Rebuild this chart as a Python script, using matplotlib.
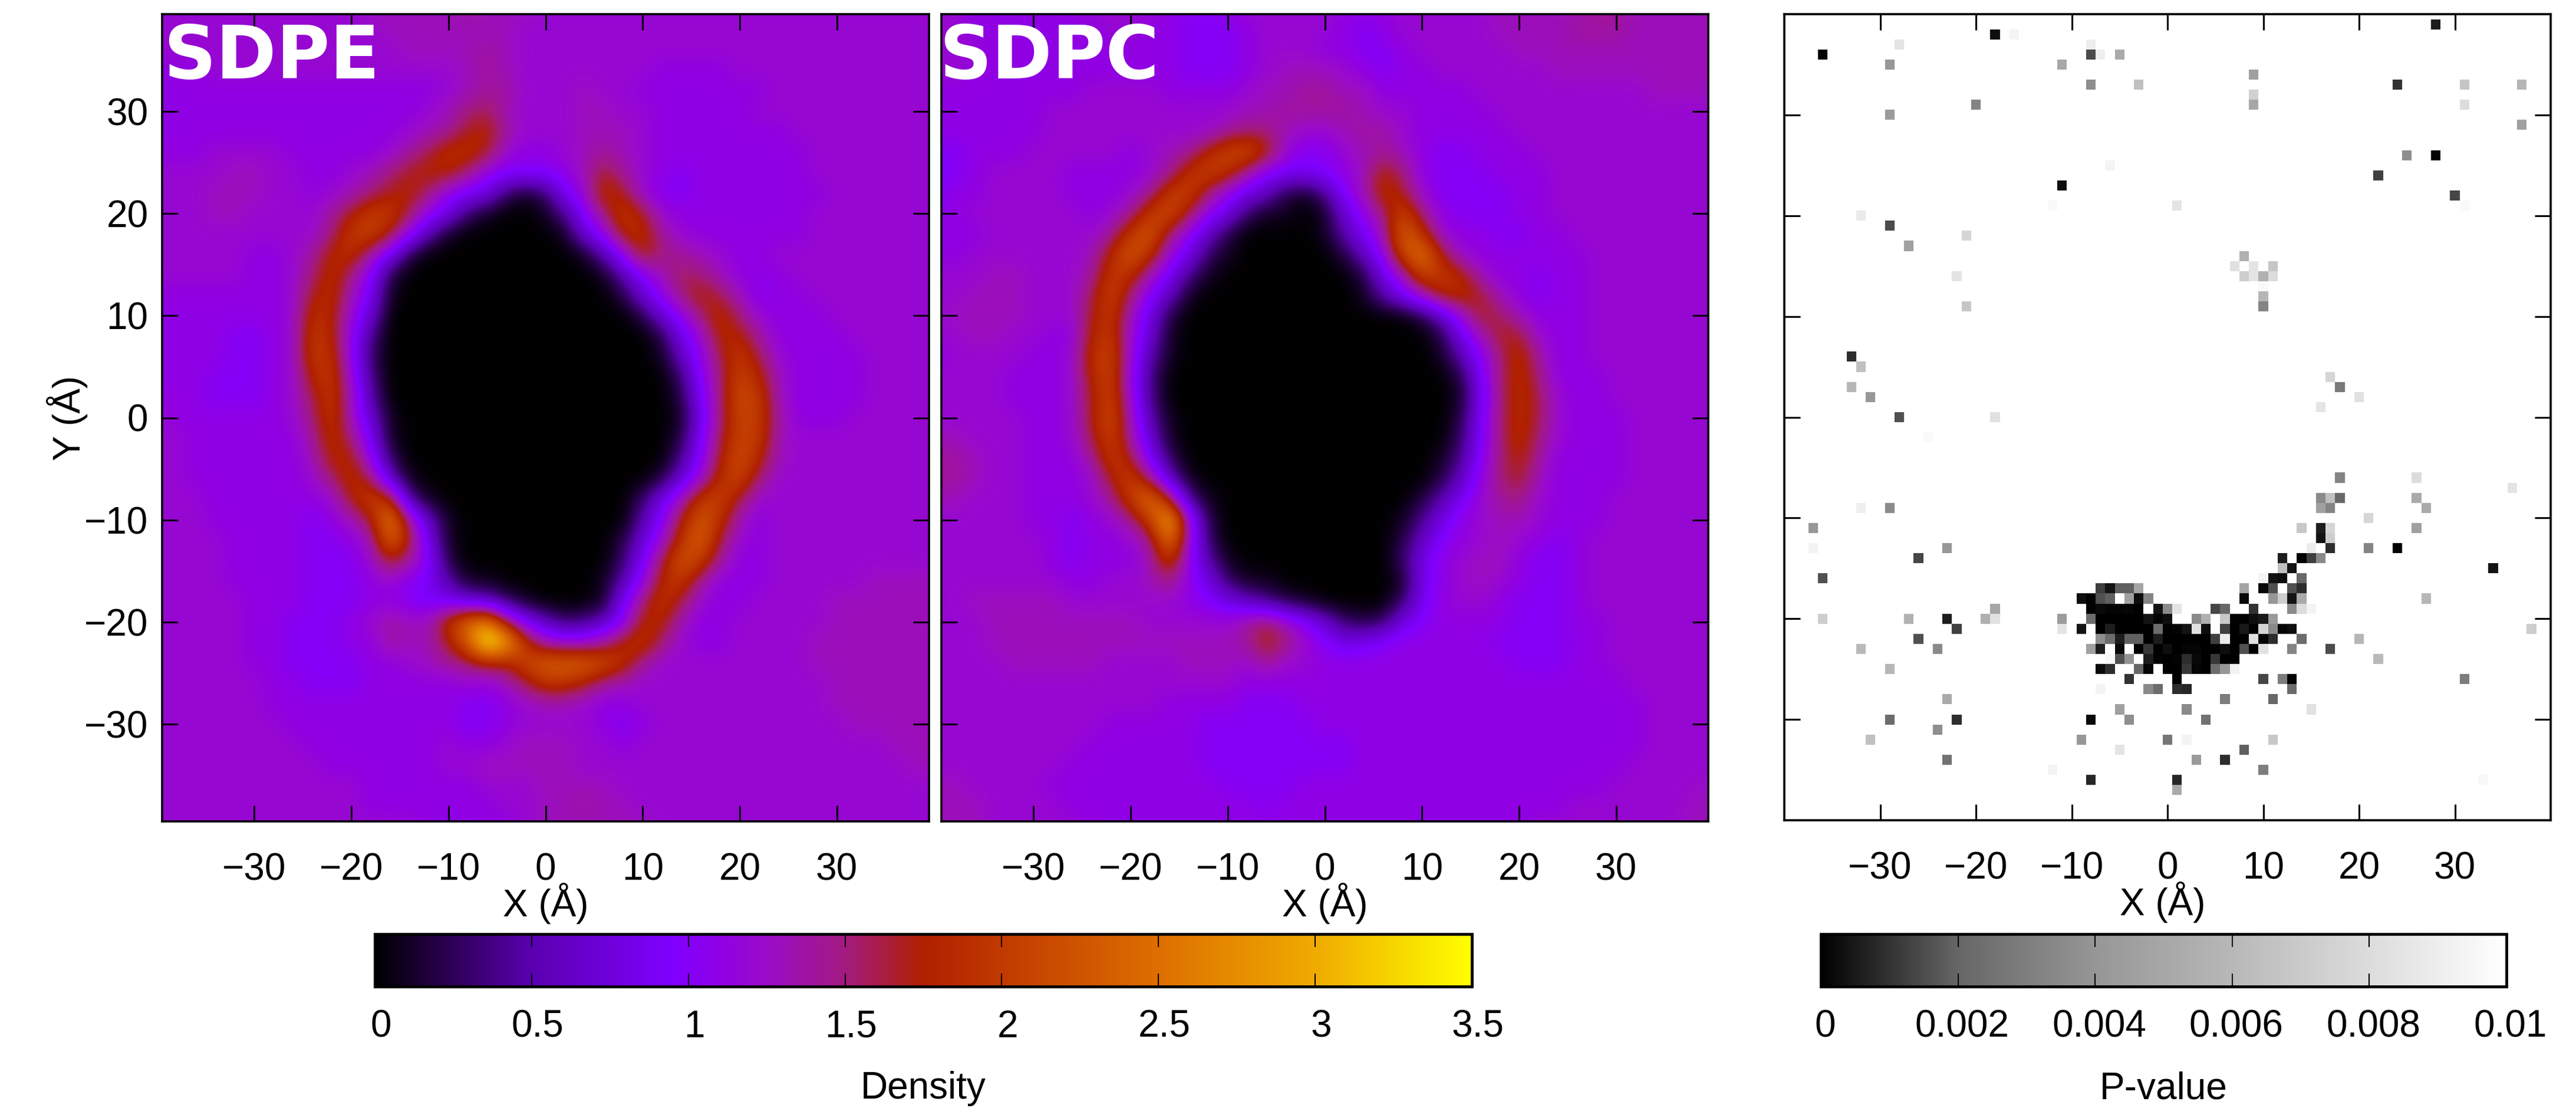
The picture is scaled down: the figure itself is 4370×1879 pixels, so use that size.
import numpy as np
import matplotlib
matplotlib.use('Agg')
import matplotlib.pyplot as plt
from matplotlib.colors import LinearSegmentedColormap, Normalize
from matplotlib.cm import ScalarMappable
from matplotlib.transforms import ScaledTranslation

plt.rcParams['font.family'] = ['Liberation Sans', 'DejaVu Sans']

# density in tenths, 2 A grid: rows y = 40 ... -40, columns x = -40 ... 40
sdpe = [
[12,12,12,12,12,12,12,12,12,12,12,13,13,13,13,13,14,13,13,13,12,12,12,12,12,12,12,12,12,12,12,12,12,12,12,12,12,12,12,12,12],
[12,12,12,12,12,12,12,12,12,12,12,12,13,13,13,13,13,13,13,12,12,12,12,12,12,12,12,12,12,12,12,12,12,12,12,12,12,12,12,12,12],
[12,12,12,12,12,12,12,12,12,12,12,12,12,13,13,13,13,14,13,12,12,12,12,12,12,12,12,12,12,12,12,12,12,12,12,12,12,12,12,12,12],
[11,11,11,12,12,12,12,12,12,12,12,12,12,12,12,12,13,14,13,12,12,12,12,12,12,12,11,11,11,11,12,12,12,12,12,12,12,12,12,12,12],
[11,11,11,11,11,11,11,11,11,11,11,11,11,11,11,12,13,14,14,12,12,12,13,12,12,11,11,11,11,11,11,11,12,12,12,12,12,12,12,12,12],
[11,11,11,11,11,11,11,11,11,11,11,11,11,11,12,13,15,16,13,12,12,12,13,13,12,12,11,11,11,11,11,12,12,12,12,12,12,12,12,12,12],
[11,11,11,11,11,11,11,11,11,11,11,11,11,12,13,14,17,18,14,12,12,12,13,13,13,12,11,11,11,11,11,11,11,12,12,12,12,12,12,12,12],
[11,11,11,12,12,12,12,11,11,11,11,11,12,14,16,19,19,17,12,11,11,12,13,14,13,12,11,11,11,11,11,11,11,11,12,12,12,12,12,12,12],
[12,12,12,12,13,13,12,12,11,11,12,13,15,17,18,18,15,11,10,10,10,11,13,17,14,12,11,10,11,11,11,11,11,11,12,12,12,12,12,12,12],
[12,12,12,13,13,13,12,12,11,12,13,15,17,18,15,11,9,8,3,1,3,9,12,19,17,12,10,10,11,11,11,11,11,11,11,12,12,12,12,12,12],
[12,12,12,13,13,12,12,12,12,14,17,20,20,16,11,8,3,1,0,0,1,4,10,15,20,17,12,11,11,11,11,11,11,11,12,12,12,12,12,12,12],
[12,12,12,12,12,12,12,12,12,15,20,21,17,11,5,1,0,0,0,0,0,1,7,11,18,19,14,12,11,11,11,11,11,11,12,12,12,12,12,12,12],
[12,12,12,12,12,11,11,12,14,18,19,14,9,2,0,0,0,0,0,0,0,0,1,5,11,18,15,14,13,12,11,11,12,12,12,12,12,12,12,12,12],
[12,12,12,12,12,11,11,12,15,19,15,10,2,0,0,0,0,0,0,0,0,0,0,1,5,10,13,16,15,13,11,11,11,12,12,12,12,12,12,12,12],
[11,11,11,11,11,11,11,12,17,19,13,9,1,0,0,0,0,0,0,0,0,0,0,0,2,7,11,15,18,16,13,10,11,11,12,12,12,12,12,12,12],
[11,11,11,11,11,11,11,12,19,18,12,7,0,0,0,0,0,0,0,0,0,0,0,0,0,2,7,11,15,19,15,12,11,11,11,12,12,12,12,12,12],
[11,11,11,11,10,10,11,12,20,18,11,4,0,0,0,0,0,0,0,0,0,0,0,0,0,0,2,8,12,18,18,14,11,11,11,11,12,12,12,12,12],
[11,11,11,11,10,10,11,12,20,19,11,3,0,0,0,0,0,0,0,0,0,0,0,0,0,0,1,6,11,16,20,16,12,11,11,11,11,12,12,12,12],
[11,11,11,10,10,10,11,12,18,20,12,4,0,0,0,0,0,0,0,0,0,0,0,0,0,0,0,3,10,15,21,18,13,11,11,11,11,12,12,12,12],
[11,11,11,10,10,10,11,12,16,20,13,5,0,0,0,0,0,0,0,0,0,0,0,0,0,0,0,2,9,15,22,20,13,11,11,11,11,12,12,12,12],
[12,11,11,11,11,11,11,12,15,20,13,7,1,0,0,0,0,0,0,0,0,0,0,0,0,0,0,1,8,15,21,20,14,11,11,11,12,12,12,12,12],
[12,12,11,11,11,11,11,11,14,19,15,9,1,0,0,0,0,0,0,0,0,0,0,0,0,0,0,2,9,16,21,20,13,12,12,12,12,12,12,12,12],
[12,12,11,11,11,11,11,11,13,18,18,11,3,0,0,0,0,0,0,0,0,0,0,0,0,0,0,4,10,17,22,18,13,12,12,12,12,12,12,12,12],
[12,12,11,11,11,11,11,11,12,15,19,16,6,1,0,0,0,0,0,0,0,0,0,0,0,0,2,7,12,19,21,15,12,12,12,12,12,12,12,12,12],
[12,12,12,11,11,11,11,11,11,12,17,21,19,4,1,0,0,0,0,0,0,0,0,0,0,3,8,13,20,21,16,12,12,12,12,12,12,12,12,12,12],
[12,12,12,11,11,11,11,11,10,11,13,16,27,14,6,1,0,0,0,0,0,0,0,0,0,5,10,17,23,19,13,11,12,12,12,12,12,12,12,12,12],
[12,12,12,12,11,11,11,11,10,10,11,13,24,17,8,1,0,0,0,0,0,0,0,0,2,7,12,19,24,16,12,11,12,12,12,12,12,12,12,12,12],
[12,12,12,12,11,11,11,11,10,10,10,12,17,14,10,2,0,0,0,0,0,0,0,0,3,9,16,23,20,14,11,11,12,12,12,12,12,12,12,12,12],
[12,12,12,12,11,11,11,11,10,10,10,11,12,10,9,5,1,1,0,0,0,0,0,1,5,11,18,20,14,11,11,11,12,12,12,12,12,13,13,13,13],
[12,12,12,12,12,11,11,11,10,10,10,11,11,10,9,9,7,6,3,1,0,0,0,1,9,15,20,16,12,11,11,12,12,12,12,13,13,13,13,13,13],
[12,12,12,12,12,11,11,10,10,10,11,12,14,13,13,19,25,27,16,9,6,3,4,6,10,18,18,13,11,11,12,12,12,12,12,13,13,13,13,13,13],
[12,12,12,12,12,11,11,10,10,10,11,11,14,13,13,17,23,36,30,19,13,12,12,14,18,20,15,12,11,11,12,12,12,12,13,13,13,13,13,13,13],
[12,12,12,12,12,11,11,10,10,10,10,11,11,12,13,14,15,17,17,21,24,24,24,22,19,14,12,12,12,12,12,12,12,12,13,13,13,13,13,13,13],
[12,12,12,12,12,12,11,11,10,10,10,11,11,11,11,11,12,11,13,16,19,19,17,14,13,12,12,12,12,12,12,12,12,12,12,13,13,13,13,13,13],
[12,12,12,12,12,12,11,11,11,11,11,11,11,11,11,11,10,10,11,12,13,13,12,11,11,12,12,12,12,12,12,12,12,12,12,13,13,13,13,13,13],
[12,12,12,12,12,12,12,11,11,11,11,11,11,11,11,11,10,10,11,12,12,12,12,11,10,11,12,12,12,12,12,12,12,12,12,12,13,13,13,13,13],
[12,12,12,12,12,12,12,12,11,11,11,11,11,11,11,12,11,11,12,13,13,13,12,12,11,12,12,12,12,12,12,12,12,12,12,12,12,12,13,13,13],
[12,12,12,12,12,12,12,12,12,11,11,11,11,11,11,12,12,13,13,13,13,13,12,12,12,12,12,12,12,12,12,12,12,12,12,12,12,12,12,13,13],
[12,12,12,12,12,12,12,12,12,12,12,11,11,11,11,11,11,12,12,12,13,13,13,13,12,12,12,12,12,12,12,12,12,12,12,12,12,12,12,12,12],
[12,12,12,12,12,12,12,12,12,12,12,11,11,11,11,11,11,11,12,12,13,13,14,13,13,12,12,12,12,12,12,12,12,12,12,12,12,12,12,12,12],
[12,12,12,12,12,12,12,12,12,12,12,12,12,12,11,11,11,11,11,12,13,13,13,13,13,13,12,12,12,12,12,12,12,12,12,12,12,12,12,12,12],
]

sdpc = [
[12,12,11,11,11,11,11,11,12,12,12,12,11,10,10,11,12,12,12,12,12,11,11,11,12,12,12,12,12,13,13,13,13,13,14,14,13,13,13,13,13],
[12,12,11,11,11,11,11,11,11,12,12,11,11,10,10,10,11,12,12,12,12,11,10,11,12,12,12,12,12,13,13,13,13,14,14,14,13,13,13,13,13],
[12,12,12,11,11,11,11,11,11,11,11,11,11,10,10,10,11,12,12,12,11,11,10,10,11,12,12,12,12,12,13,13,13,13,13,13,13,13,13,13,13],
[12,12,11,11,11,11,11,11,11,11,11,11,11,10,10,10,11,12,13,13,13,12,11,10,11,11,12,12,12,12,12,12,13,13,13,13,13,13,13,13,13],
[11,11,11,11,11,11,11,11,12,12,12,12,11,11,11,11,12,13,13,14,14,13,13,11,11,11,11,11,12,12,12,12,12,12,12,12,12,13,13,13,13],
[11,11,11,11,11,11,12,12,12,12,12,12,12,12,12,12,13,13,14,14,14,14,13,12,12,11,11,11,11,12,12,12,12,12,12,12,12,12,12,12,12],
[11,11,11,11,11,11,12,12,12,12,12,12,12,12,12,14,15,15,13,12,12,13,14,14,12,11,11,11,11,11,12,12,12,12,12,12,12,12,12,12,12],
[10,10,11,11,11,12,12,12,12,12,11,12,13,14,18,21,22,18,12,10,10,12,13,14,13,11,10,10,11,11,11,12,12,12,12,12,12,12,12,12,12],
[9,10,11,12,12,12,12,11,11,11,11,12,14,19,21,19,14,10,9,9,10,11,13,18,15,11,10,10,10,11,11,11,12,12,12,12,12,12,12,12,12],
[10,11,11,12,12,12,12,11,11,11,12,14,20,21,15,11,8,6,2,1,4,10,13,19,17,12,10,10,10,10,11,11,12,12,12,12,12,12,12,12,12],
[11,11,12,12,12,12,12,12,11,12,14,20,22,16,11,8,3,1,1,0,1,7,11,15,21,15,11,10,10,10,11,11,12,12,12,12,12,12,12,12,12],
[11,11,11,12,12,12,12,12,12,14,20,23,15,11,6,2,0,0,0,0,1,5,9,13,24,19,12,11,11,10,10,11,11,12,12,12,12,12,12,12,12],
[11,11,12,12,12,12,12,12,13,18,23,19,12,8,3,1,0,0,0,0,0,2,6,11,21,26,17,12,11,11,11,11,11,11,12,12,12,12,12,12,12],
[12,12,12,13,13,12,12,12,14,20,19,13,9,4,1,0,0,0,0,0,0,0,2,8,13,21,20,18,13,11,11,10,11,11,12,12,12,12,12,12,12],
[12,12,13,13,13,12,12,12,16,21,15,10,6,1,0,0,0,0,0,0,0,0,1,5,9,13,18,19,17,13,11,10,11,11,12,12,12,12,12,12,12],
[12,13,13,13,13,12,12,12,17,20,13,8,2,0,0,0,0,0,0,0,0,0,0,0,0,2,6,12,17,16,13,11,11,11,12,12,12,12,12,12,12],
[12,12,13,13,12,12,11,11,18,20,12,7,1,0,0,0,0,0,0,0,0,0,0,0,0,0,2,8,13,17,17,12,11,11,12,12,12,12,12,12,12],
[11,12,12,12,12,11,11,12,19,21,12,5,1,0,0,0,0,0,0,0,0,0,0,0,0,0,1,5,10,15,19,14,11,11,12,12,12,12,12,12,12],
[12,12,12,12,11,11,11,12,18,21,11,4,0,0,0,0,0,0,0,0,0,0,0,0,0,0,0,2,9,15,19,15,11,11,11,12,12,12,12,12,12],
[12,12,12,12,11,11,11,12,17,21,12,4,0,0,0,0,0,0,0,0,0,0,0,0,0,0,0,1,8,15,19,16,12,11,11,12,12,12,12,12,12],
[12,12,12,12,12,11,11,12,17,22,13,5,1,0,0,0,0,0,0,0,0,0,0,0,0,0,0,2,9,15,19,16,12,11,11,11,12,12,12,12,12],
[13,13,12,12,12,11,11,12,16,21,14,7,1,0,0,0,0,0,0,0,0,0,0,0,0,0,0,3,9,15,19,15,12,11,11,11,12,12,12,12,12],
[14,14,13,12,12,11,11,11,14,20,17,9,3,0,0,0,0,0,0,0,0,0,0,0,0,0,1,4,10,15,18,14,11,11,11,11,12,12,12,12,12],
[14,14,13,12,12,11,11,11,12,17,21,15,6,1,0,0,0,0,0,0,0,0,0,0,0,0,2,6,11,15,17,13,11,11,11,11,12,12,12,12,12],
[13,13,12,12,12,11,11,11,12,14,20,26,17,4,1,0,0,0,0,0,0,0,0,0,0,2,5,9,12,14,15,12,11,11,11,12,12,12,12,12,12],
[12,12,12,12,12,11,11,10,11,12,14,20,31,12,2,0,0,0,0,0,0,0,0,0,1,4,8,11,12,13,13,12,11,11,11,12,12,12,12,12,12],
[12,12,12,12,12,12,11,10,11,11,12,14,26,12,3,0,0,0,0,0,0,0,0,0,2,6,10,11,12,13,12,11,10,11,12,12,12,12,12,12,12],
[12,12,12,12,12,12,11,10,11,11,11,13,20,11,5,1,0,0,0,0,0,0,0,0,3,8,11,12,13,13,11,10,10,11,12,12,12,12,12,12,12],
[12,12,12,12,12,12,12,11,11,12,12,13,15,11,8,3,1,1,0,0,0,0,0,0,1,8,11,12,13,12,11,10,10,11,12,12,12,12,12,12,12],
[12,12,13,13,13,13,13,12,12,12,12,12,12,11,10,8,6,4,2,1,0,0,0,0,3,9,11,12,12,11,10,10,10,11,12,12,12,12,12,12,12],
[12,12,12,13,13,13,13,13,13,13,13,12,12,12,12,12,14,16,13,10,7,3,2,3,8,10,11,11,11,11,10,10,10,11,11,12,12,12,12,12,12],
[12,12,12,13,13,13,13,13,13,13,13,13,13,13,13,13,14,18,15,12,10,8,9,10,11,11,11,11,11,10,10,10,10,11,11,12,12,12,12,12,12],
[12,12,12,12,13,13,13,13,13,12,12,12,12,13,13,13,12,14,12,12,11,11,11,11,11,11,11,11,11,11,10,10,10,11,11,12,12,12,12,12,12],
[12,12,12,12,12,12,12,12,12,12,12,12,12,12,12,12,11,11,11,11,11,11,11,11,11,11,11,11,11,11,11,11,11,11,11,11,12,12,12,12,12],
[12,12,12,12,12,12,12,12,12,12,12,12,11,11,11,11,10,10,10,11,11,11,11,11,11,11,11,11,11,11,11,11,11,11,11,11,11,12,12,12,12],
[12,12,12,12,12,12,12,12,12,11,11,11,11,11,10,10,10,10,10,10,11,11,11,11,11,11,11,11,11,11,11,11,11,11,11,11,11,12,12,12,12],
[12,12,12,12,12,12,12,12,11,11,11,11,11,11,10,10,10,10,10,10,10,10,11,11,11,11,11,11,11,11,11,11,11,11,11,11,11,12,12,12,12],
[12,12,12,12,12,12,12,11,11,11,11,11,11,11,10,10,10,10,10,10,10,10,11,11,11,11,11,11,11,11,11,11,11,11,11,11,12,12,12,12,12],
[13,13,12,12,12,12,11,11,11,11,11,11,11,11,11,10,10,10,10,11,11,11,11,11,11,11,11,11,11,11,11,11,11,11,11,12,12,12,12,12,13],
[13,13,13,12,12,12,12,11,11,11,11,11,11,11,11,11,11,10,11,11,11,11,11,11,11,11,11,11,11,11,11,11,11,12,12,12,12,12,12,13,13],
[13,13,13,12,12,12,12,12,11,11,11,11,11,11,11,11,11,11,11,11,11,11,11,11,11,11,11,11,11,11,11,12,12,12,12,12,12,12,12,13,13],
]

# p-value in units of 0.001, {y: [(x, p), ...]}, empty cells are white
pval_rows = {
39: [(28,.6)],
38: [(-18,.3),(-16,9.4)],
37: [(-28,8.5),(-8,9.0)],
36: [(-36,.1),(-8,1.5),(-7,9.1),(-5,5.2)],
35: [(-29,4.1),(-11,5.1)],
34: [(9,4.6)],
33: [(-8,3.7),(-3,6.5),(24,1),(31,6.8),(37,5.9)],
32: [(9,7.4)],
31: [(-20,3.3),(9,5),(31,8)],
30: [(-29,4.3)],
29: [(37,4.6)],
26: [(25,3.7),(28,.1)],
25: [(-6,9.4)],
24: [(22,1.25)],
23: [(-11,.3)],
22: [(30,1.4)],
21: [(-12,9.7),(1,8.5),(31,9.7)],
20: [(-32,8.8)],
19: [(-29,1.5)],
18: [(-21,7.6)],
17: [(-27,4.6)],
16: [(8,5.6)],
15: [(7,8.3),(9,8.5),(11,6.8)],
14: [(-22,8.5),(8,7.2),(9,8.5),(10,5.6),(11,8.1)],
13: [(10,9.7)],
12: [(10,5.9)],
11: [(-21,6.8),(10,3.3)],
6: [(-33,.9)],
5: [(-32,6.5)],
4: [(17,7.6)],
3: [(-33,5.9),(18,2.8)],
2: [(-31,4.1),(20,8.3)],
1: [(16,8.5)],
0: [(-28,1.6),(-18,8.3)],
-2: [(-25,9.7)],
-6: [(18,3.3),(26,8)],
-7: [(36,8.5)],
-8: [(16,3.5),(17,6.5),(18,2.1),(26,5.2)],
-9: [(-32,9.1),(-29,3.5),(16,4.6),(17,3.3),(27,5.2)],
-10: [(21,7.7)],
-11: [(-37,4.1),(14,6.9),(16,.6),(17,7.6),(26,4.6)],
-12: [(16,.4),(17,7.2)],
-13: [(-37,9.3),(-23,4.1),(15,9),(17,.9),(21,3.3),(24,.1)],
-14: [(-26,1.4),(12,.6),(14,.05),(15,1.25),(16,3.5)],
-15: [(12,6.5),(13,.4),(34,.4)],
-16: [(-36,1.6),(10,9.4),(11,.4),(12,.3),(14,2.1)],
-17: [(-7,1.25),(-6,.4),(-5,1.9),(-4,1.9),(-3,4.9),(8,4.9),(10,.2),(11,1.6),(13,1.6),(14,.9)],
-18: [(-9,.3),(-8,.03),(-7,1.6),(-6,1.9),(-4,4.6),(-3,.3),(-2,3.3),(8,.2),(11,4.1),(12,7.2),(13,.4),(14,5.2),(27,5.9)],
-19: [(-18,4.9),(-8,0),(-7,.2),(-6,.1),(-5,.1),(-4,.15),(-3,0),(-1,.4),(0,3.5),(1,8.5),(5,1.4),(6,2.1),(9,1),(13,3.5),(14,8),(15,9.3)],
-20: [(-36,7.2),(-27,5.6),(-23,.6),(-19,5.5),(-18,8.3),(-11,4.4),(-8,2.3),(-7,0),(-6,0),(-5,0),(-4,0),(-3,0),(-2,.4),(-1,.1),(0,.3),(3,3.5),(4,5.6),(6,6.9),(7,.05),(8,0),(9,.3),(10,.5),(11,4.3)],
-21: [(-22,1.25),(-11,8.5),(-9,.4),(-7,0),(-6,.6),(-5,0),(-4,0),(-3,0),(-2,.03),(-1,2.3),(0,.05),(1,.1),(2,.4),(3,8.3),(4,.3),(6,1.25),(7,0),(8,.5),(9,0),(10,7.6),(11,3.5),(12,.15),(13,.3),(38,7.2)],
-22: [(-26,1.6),(-7,3.7),(-6,2.3),(-5,.6),(-4,1.9),(-3,1.9),(-2,0),(-1,.6),(0,.03),(1,.03),(2,.03),(3,0),(4,0),(5,1.25),(6,9),(7,0),(8,.05),(9,8.3),(10,.08),(11,.9),(14,2.3),(20,5.9)],
-23: [(-32,6.1),(-24,3.5),(-8,4.6),(-7,.6),(-5,.2),(-3,.05),(-2,1.1),(-1,.05),(0,.3),(1,0),(2,.1),(3,.1),(4,.03),(5,.03),(6,.3),(7,.05),(8,1.6),(9,0),(10,8.3),(13,3.3),(17,1.5)],
-24: [(-6,9.6),(-5,1.6),(-4,3.9),(-2,.6),(-1,.08),(0,0),(1,.08),(2,.9),(3,.2),(4,0),(5,1.1),(6,.01),(7,0),(22,6.1)],
-25: [(-29,5.9),(-7,.2),(-6,.9),(-3,2.1),(-2,.1),(0,.03),(1,0),(2,1.1),(3,.1),(4,0),(5,2.3),(6,4.1),(7,9.3)],
-26: [(-4,1),(1,0),(10,1.4),(12,3),(13,.1),(31,3)],
-27: [(-7,9.3),(-2,3.5),(-1,2.3),(1,.9),(2,.8),(13,2.3)],
-28: [(-23,5.2),(6,3),(11,2.1)],
-29: [(-5,4.6),(2,3.5),(15,8.3)],
-30: [(-29,2.3),(-22,.9),(-8,.2),(-4,3.7),(4,2.5)],
-31: [(-24,3.7)],
-32: [(-31,6.5),(-9,4.1),(0,2.7),(2,9.3),(11,6.9)],
-33: [(-5,8.5),(8,1.9)],
-34: [(-23,2.5),(3,4.3),(6,.9)],
-35: [(-12,9.3),(10,3)],
-36: [(-8,.8),(1,.8),(33,9.6)],
-37: [(1,5.2)],
}

density_levels = [0, .25, .5, .95, 1.1, 1.25, 1.5, 1.75, 2, 2.5, 3, 3.5]
density_colors = ['#000000', '#2e0058', '#5a00b0', '#8000ff', '#9000e4', '#9a0cc8', '#a31a80',
                  '#b02000', '#c03a00', '#dd6e00', '#efaa00', '#ffff00']
pval_levels = [0, 2, 4, 6, 8, 10]
pval_grays = ['#000000', '#666666', '#969696', '#b8b8b8', '#dcdcdc', '#ffffff']

axis_ticks = [-30, -20, -10, 0, 10, 20, 30]
density_ticks = [0, .5, 1, 1.5, 2, 2.5, 3, 3.5]
density_labels = ['0', '0.5', '1', '1.5', '2', '2.5', '3', '3.5']
pval_ticks = [0, 2, 4, 6, 8, 10]
pval_labels = ['0', '0.002', '0.004', '0.006', '0.008', '0.01']

W, H = 4370, 1879
FS = 46


def box(x0, x1, y0, y1):
    return [x0 / W, 1 - y1 / H, (x1 - x0) / W, (y1 - y0) / H]


dens_cmap = LinearSegmentedColormap.from_list('dens', [(l / 3.5, c) for l, c in zip(density_levels, density_colors)], N=512)
dens_norm = Normalize(0, 3.5)
pval_cmap = LinearSegmentedColormap.from_list('pv', [(l / 10, c) for l, c in zip(pval_levels, pval_grays)], N=512)
pval_norm = Normalize(0, 10)
pval_cmap.set_bad('white')

fig = plt.figure(figsize=(W / 100, H / 100), dpi=100)


def style(ax, xlim):
    ax.set_xlim(-xlim, xlim)
    ax.set_ylim(-xlim, xlim)
    ax.set_xticks(axis_ticks)
    ax.set_yticks(axis_ticks)
    ax.tick_params(direction='in', top=True, right=True, length=19.5, width=2.2, labelsize=FS)
    ax.tick_params(axis='x', pad=38)
    ax.tick_params(axis='y', pad=17)
    for s in ax.spines.values():
        s.set_linewidth(2.6)
    ax.set_xlabel('X (Å)', fontsize=FS, labelpad=-6)


def density_panel(rect, grid, name, text_x):
    ax = fig.add_axes(box(*rect))
    ax.imshow(np.array(grid) / 10, extent=[-41, 41, -41, 41], cmap=dens_cmap, norm=dens_norm,
              interpolation='bicubic', interpolation_stage='data', aspect='auto')
    style(ax, 39.5)
    ax.text(text_x, 0.99, name, transform=ax.transAxes, color='white', fontsize=89, fontweight='bold',
            family='DejaVu Sans', ha='left', va='top')
    return ax


ax1 = density_panel((275, 1576, 24, 1393), sdpe, 'SDPE', 0.002)
ax1.set_ylabel('Y (Å)', fontsize=FS, labelpad=-4)
ax2 = density_panel((1597, 2898, 24, 1393), sdpc, 'SDPC', -0.003)
ax2.set_yticklabels([])

pgrid = np.full((81, 81), np.nan)
for y, cells in pval_rows.items():
    for x, p in cells:
        pgrid[40 - y, x + 40] = p
ax3 = fig.add_axes(box(3027, 4327, 24, 1391))
ax3.imshow(pgrid, extent=[-40.5, 40.5, -40.5, 40.5], cmap=pval_cmap, norm=pval_norm,
           interpolation='nearest', aspect='auto')
style(ax3, 40)
ax3.set_yticklabels([])
ax3.xaxis.label.set_x(0.494)


def bar(rect, cmap, norm, ticks, labels, title, shift):
    cax = fig.add_axes(box(*rect))
    cb = fig.colorbar(ScalarMappable(norm=norm, cmap=cmap), cax=cax, orientation='horizontal')
    cb.set_ticks(ticks)
    cb.set_ticklabels(labels)
    cax.tick_params(direction='in', top=True, bottom=True, length=16, width=1.5, labelsize=FS, pad=28)
    cax.minorticks_off()
    cb.outline.set_linewidth(3.5)
    cb.set_label(title, fontsize=FS, labelpad=32)
    for lab in cax.get_xticklabels():
        lab.set_transform(lab.get_transform() + ScaledTranslation(shift / 100, 0, fig.dpi_scale_trans))


bar((636, 2497, 1584, 1673), dens_cmap, dens_norm, density_ticks, density_labels, 'Density', 10)
bar((3089, 4252, 1584, 1673), pval_cmap, pval_norm, pval_ticks, pval_labels, 'P-value', 7)

fig.savefig('out.png', dpi=100)
